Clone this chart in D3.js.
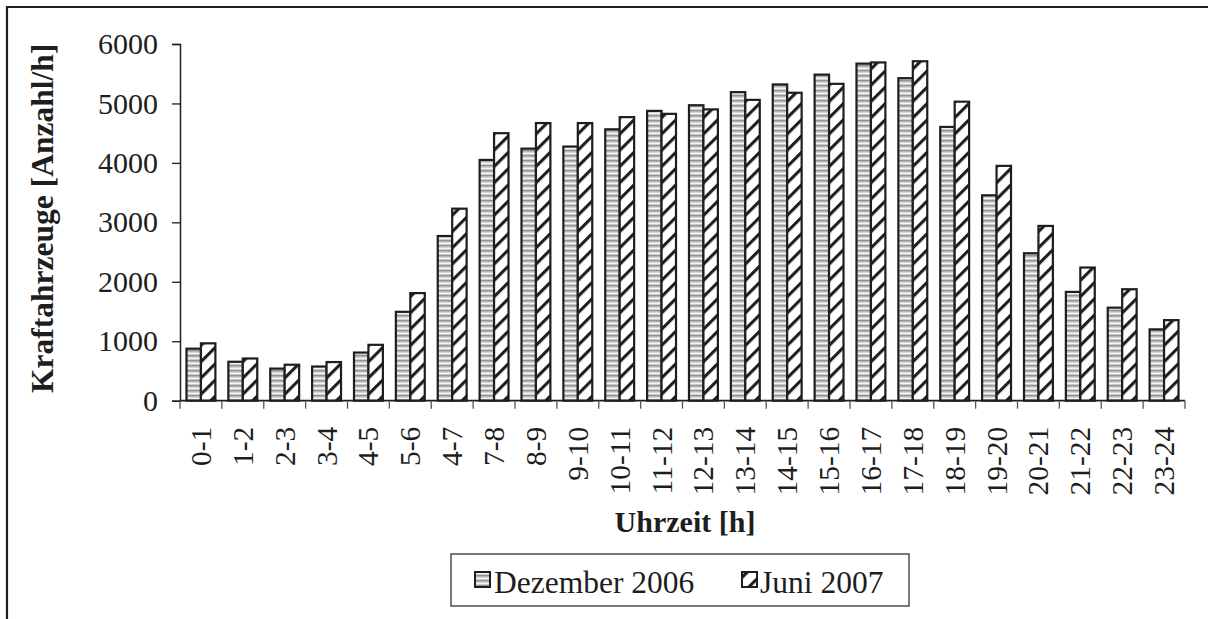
<!DOCTYPE html>
<html>
<head>
<meta charset="utf-8">
<script src="https://cdn.jsdelivr.net/npm/d3@7"></script>
<style>
  html, body { margin: 0; padding: 0; background: #fff; }
  svg { display: block; }
  text { font-family: "Liberation Serif", "Times New Roman", serif; fill: #1e1e1e; }
</style>
</head>
<body>
<svg id="chart" width="1208" height="619"></svg>
<script>
// Hourly traffic counts (vehicles per hour)
const hours = ["0-1","1-2","2-3","3-4","4-5","5-6","4-7","7-8","8-9","9-10","10-11","11-12",
               "12-13","13-14","14-15","15-16","16-17","17-18","18-19","19-20","20-21","21-22","22-23","23-24"];
const dezember2006 = [875, 655, 540, 575, 810, 1495, 2770, 4050, 4240, 4275, 4565, 4875,
                      4970, 5190, 5320, 5485, 5670, 5425, 4605, 3455, 2480, 1830, 1565, 1200];
const juni2007 = [965, 710, 605, 650, 940, 1810, 3230, 4500, 4670, 4670, 4770, 4825,
                  4900, 5060, 5180, 5330, 5690, 5710, 5030, 3950, 2940, 2240, 1875, 1355];
const seriesNames = ["Dezember 2006", "Juni 2007"];
const yTicks = [0, 1000, 2000, 3000, 4000, 5000, 6000];

const svg = d3.select("#chart");
const W = 1208, H = 619;
const plot = { left: 180, right: 1185, top: 44, bottom: 400.7 };
const ink = "#1e1e1e";
const serif = '"Liberation Serif", "Times New Roman", serif';

// Fill patterns: grey horizontal stripes and black diagonal hatching
const defs = svg.append("defs");
const pStripe = defs.append("pattern")
  .attr("id", "pat-dez").attr("patternUnits", "userSpaceOnUse")
  .attr("width", 10).attr("height", 5);
pStripe.append("rect").attr("width", 10).attr("height", 5).attr("fill", "#f6f6f6");
pStripe.append("rect").attr("y", 0).attr("width", 10).attr("height", 1.7).attr("fill", "#939393");
pStripe.append("rect").attr("y", 1.7).attr("width", 10).attr("height", 0.9).attr("fill", "#c2c2c2");
pStripe.append("rect").attr("y", 4.2).attr("width", 10).attr("height", 0.8).attr("fill", "#c2c2c2");

const pHatch = defs.append("pattern")
  .attr("id", "pat-juni").attr("patternUnits", "userSpaceOnUse")
  .attr("width", 11.5).attr("height", 11.5)
  .attr("patternTransform", "rotate(45)");
pHatch.append("rect").attr("width", 11.5).attr("height", 11.5).attr("fill", "#fff");
pHatch.append("line").attr("x1", 1.5).attr("y1", 0).attr("x2", 1.5).attr("y2", 11.5)
  .attr("stroke", ink).attr("stroke-width", 3.2);

const fills = ["url(#pat-dez)", "url(#pat-juni)"];

// Outer frame (top and left edges)
svg.append("line").attr("x1", 7).attr("y1", 7).attr("x2", W).attr("y2", 7)
  .attr("stroke", ink).attr("stroke-width", 2.2);
svg.append("line").attr("x1", 7).attr("y1", 6).attr("x2", 7).attr("y2", H)
  .attr("stroke", ink).attr("stroke-width", 2.2);

// Scales
const x = d3.scaleBand().domain(hours).range([plot.left, plot.right]).paddingInner(0.31).paddingOuter(0.155);
const xs = d3.scaleBand().domain(seriesNames).range([0, x.bandwidth()]);
const y = d3.scaleLinear().domain([0, 6000]).range([plot.bottom, plot.top]);

// Bars
const groups = svg.append("g").selectAll("g")
  .data(hours).join("g")
  .attr("transform", d => `translate(${x(d)},0)`);
groups.selectAll("rect")
  .data((d, i) => [dezember2006[i], juni2007[i]].map((v, k) => ({ v, k })))
  .join("rect")
  .attr("x", d => xs(seriesNames[d.k]))
  .attr("width", xs.bandwidth())
  .attr("y", d => y(d.v))
  .attr("height", d => y(0) - y(d.v))
  .attr("fill", d => fills[d.k])
  .attr("stroke", ink).attr("stroke-width", 2.2);

// Y axis
const yAxis = svg.append("g").attr("transform", `translate(${plot.left},0)`)
  .call(d3.axisLeft(y).tickValues(yTicks).tickSize(8).tickPadding(14).tickFormat(d3.format("d")));
yAxis.select(".domain").attr("stroke", ink).attr("stroke-width", 1.5);
yAxis.selectAll(".tick line").attr("stroke", ink).attr("stroke-width", 1.3);
yAxis.selectAll("text").attr("font-size", 30).attr("fill", ink).style("font-family", serif);

// X axis with category boundary ticks
const xAxisG = svg.append("g").attr("transform", `translate(0,${plot.bottom})`);
xAxisG.append("line").attr("x1", plot.left).attr("x2", plot.right)
  .attr("stroke", ink).attr("stroke-width", 1.8);
const step = x.step();
const boundaries = d3.range(hours.length + 1).map(i => plot.left + i * step);
xAxisG.selectAll("line.tk").data(boundaries).join("line").attr("class", "tk")
  .attr("x1", d => d).attr("x2", d => d).attr("y1", 0).attr("y2", 8)
  .attr("stroke", "#555").attr("stroke-width", 1.3);
xAxisG.selectAll("text").data(hours).join("text")
  .attr("transform", d => `translate(${x(d) + x.bandwidth() / 2 + 10},26) rotate(-90)`)
  .attr("text-anchor", "end")
  .attr("font-size", 29.5)
  .text(d => d);

// Axis titles
svg.append("text")
  .attr("transform", `translate(53,${(plot.top + plot.bottom) / 2 - 4}) rotate(-90)`)
  .attr("text-anchor", "middle").attr("font-size", 31.5).attr("font-weight", "bold")
  .text("Kraftahrzeuge [Anzahl/h]");
svg.append("text")
  .attr("x", 685).attr("y", 532)
  .attr("text-anchor", "middle").attr("font-size", 30).attr("font-weight", "bold")
  .text("Uhrzeit [h]");

// Legend
const legend = svg.append("g");
legend.append("rect").attr("x", 451).attr("y", 554).attr("width", 458).attr("height", 52)
  .attr("fill", "#fff").attr("stroke", "#333").attr("stroke-width", 1.3);
const legendItems = [
  { name: seriesNames[0], sx: 475, tx: 494 },
  { name: seriesNames[1], sx: 742, tx: 760 }
];
legendItems.forEach((d, k) => {
  legend.append("rect").attr("x", d.sx).attr("y", 572).attr("width", 15).attr("height", 15)
    .attr("fill", fills[k]).attr("stroke", ink).attr("stroke-width", 2);
  legend.append("text").attr("x", d.tx).attr("y", 593).attr("font-size", 31.5).text(d.name);
});
</script>
</body>
</html>
